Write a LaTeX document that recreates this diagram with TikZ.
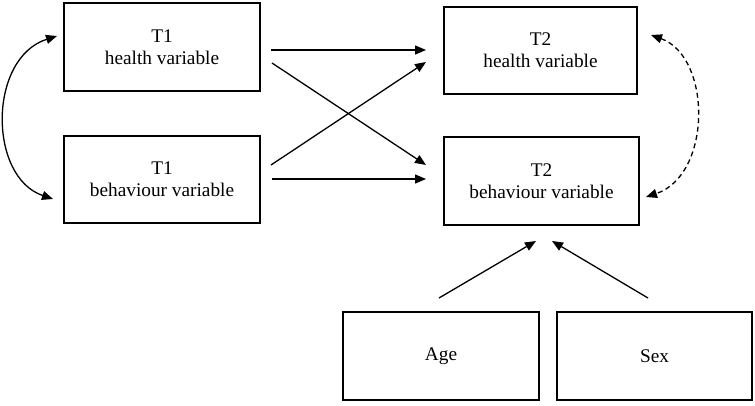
\documentclass[tikz,border=0pt]{standalone}
\usepackage{fontspec}
\setmainfont{Liberation Serif}
\usetikzlibrary{arrows.meta}
\begin{document}
\begin{tikzpicture}[x=1pt,y=-1pt,
  box/.style={draw,line width=1.4pt,rectangle,inner sep=0pt,align=center,
    font=\fontsize{19.3}{21.6}\selectfont},
  arr/.style={line width=1.3pt,-{Triangle[length=11pt,width=9pt]}},
  darr/.style={line width=1.3pt,dash pattern=on 5pt off 3.5pt,{Triangle[length=11pt,width=9pt]}-{Triangle[length=11pt,width=9pt]}},
  carr/.style={line width=1.3pt,{Triangle[length=11pt,width=9pt]}-{Triangle[length=11pt,width=9pt]}}]
\useasboundingbox (0,0) rectangle (755,405);
\node[box,minimum width=196pt,minimum height=88pt] (h1) at (162,47) {T1\\health variable};
\node[box,minimum width=196pt,minimum height=87pt] (b1) at (162,179.5) {T1\\behaviour variable};
\node[box,minimum width=193pt,minimum height=87pt] (h2) at (540.5,50.5) {T2\\health variable};
\node[box,minimum width=195pt,minimum height=88pt] (b2) at (541.5,181) {T2\\behaviour variable};
\node[box,minimum width=196pt,minimum height=88pt] (age) at (441,356) {Age};
\node[box,minimum width=195pt,minimum height=88pt] (sex) at (654.5,356) {Sex};
% arrow end points
\coordinate (h1a) at (271,50);
\coordinate (h1b) at (272,63);
\coordinate (b1a) at (271,165);
\coordinate (b1b) at (272,179);
\coordinate (h2a) at (426,50);
\coordinate (h2b) at (426,62);
\coordinate (b2a) at (426,165);
\coordinate (b2b) at (426,179);
\coordinate (agea) at (439,298);
\coordinate (sexa) at (648,298);
\coordinate (b2c) at (536,241);
\coordinate (b2d) at (552,241);
\coordinate (h1c) at (57,36);
\coordinate (b1c) at (53,199);
\coordinate (h2c) at (651,35);
\coordinate (b2e) at (646,197);
\draw[arr] (h1a) -- (h2a);
\draw[arr] (h1b) -- (b2a);
\draw[arr] (b1a) -- (h2b);
\draw[arr] (b1b) -- (b2b);
\draw[arr] (agea) -- (b2c);
\draw[arr] (sexa) -- (b2d);
\draw[carr] (h1c) .. controls (-12,58) and (-12,177) .. (b1c);
\draw[darr] (h2c) .. controls (712,57) and (712,175) .. (b2e);
\end{tikzpicture}
\end{document}
